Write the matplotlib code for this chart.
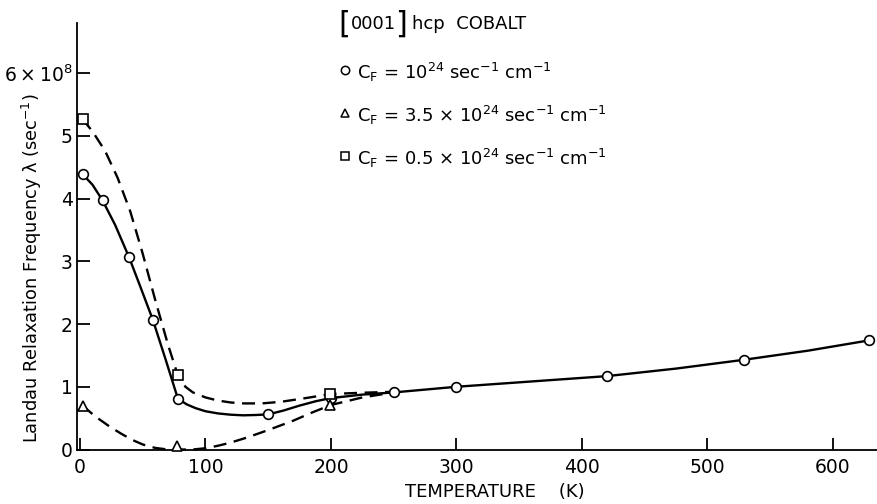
import matplotlib
matplotlib.use("Agg")
import matplotlib.pyplot as plt

plt.rcParams['font.family'] = ['DejaVu Sans']
plt.rcParams['mathtext.default'] = 'regular'

# Landau relaxation frequency of [0001] hcp cobalt, units of 1e8 sec^-1
# measured points for each value of C_F
t_circle = [2, 18, 39, 58, 78, 150, 200, 250, 300, 420, 529, 629]
lam_circle = [4.39, 3.97, 3.07, 2.07, 0.81, 0.56, 0.82, 0.91, 1.00, 1.17, 1.43, 1.74]

t_triangle = [2, 77, 199]
lam_triangle = [0.70, 0.05, 0.71]

t_square = [2, 78, 199]
lam_square = [5.27, 1.18, 0.885]

# hand-drawn curves through the points
curve_circle_t = [2, 10, 18, 28, 39, 48, 58, 68, 78, 85, 92, 100, 110, 120, 130,
                  140, 150, 162, 175, 188, 200, 225, 250, 275, 300, 360, 420,
                  475, 529, 580, 629]
curve_circle_lam = [4.39, 4.22, 3.97, 3.58, 3.07, 2.60, 2.07, 1.45, 0.81, 0.72,
                    0.66, 0.61, 0.575, 0.555, 0.545, 0.55, 0.56, 0.62, 0.70,
                    0.77, 0.82, 0.875, 0.91, 0.955, 1.00, 1.085, 1.17, 1.29,
                    1.43, 1.575, 1.74]

curve_square_t = [2, 10, 20, 30, 40, 50, 60, 70, 78, 84, 90, 100, 110, 120, 130,
                  145, 160, 180, 200, 225, 250]
curve_square_lam = [5.27, 5.07, 4.76, 4.33, 3.80, 3.12, 2.38, 1.68, 1.18, 1.00,
                    0.91, 0.83, 0.78, 0.75, 0.735, 0.735, 0.76, 0.82, 0.885,
                    0.905, 0.92]

curve_triangle_t = [2, 12, 24, 33, 42, 50, 60, 70, 80, 90, 100, 110, 120, 133,
                    150, 170, 185, 200, 225, 250]
curve_triangle_lam = [0.70, 0.53, 0.36, 0.25, 0.15, 0.08, 0.025, 0.0, 0.0, 0.0,
                      0.02, 0.06, 0.11, 0.19, 0.31, 0.46, 0.59, 0.71, 0.83, 0.91]

x_ticks = [0, 100, 200, 300, 400, 500, 600]
y_ticks = [0, 1, 2, 3, 4, 5, 6]
y_ticklabels = ['0', '1', '2', '3', '4', '5', '6\u2009×\u200910$^{8}$']

legend_labels = [r"C$_F$ = 10$^{24}$ sec$^{-1}$ cm$^{-1}$",
                 r"C$_F$ = 3.5 × 10$^{24}$ sec$^{-1}$ cm$^{-1}$",
                 r"C$_F$ = 0.5 × 10$^{24}$ sec$^{-1}$ cm$^{-1}$"]

W, H = 878, 504
fig = plt.figure(figsize=(W / 100, H / 100), dpi=100)
ax = fig.add_axes([77 / W, 54.5 / H, 801 / W, 426.5 / H])

lw = 1.7
dash = (5.5, 3.2)
ax.plot(curve_circle_t, curve_circle_lam, color='black', lw=lw, clip_on=False,
        solid_capstyle='round')
ax.plot(curve_square_t, curve_square_lam, color='black', lw=lw, dashes=dash,
        clip_on=False)
ax.plot(curve_triangle_t, curve_triangle_lam, color='black', lw=lw, dashes=dash,
        clip_on=False)

mk = dict(linestyle='none', mfc='white', mec='black', mew=1.2, clip_on=False,
          zorder=5)
ax.plot(t_circle, lam_circle, marker='o', ms=7, **mk)
ax.plot(t_triangle, lam_triangle, marker='^', ms=7, **mk)
ax.plot(t_square, lam_square, marker='s', ms=6.5, **mk)

ax.set_xlim(-2.4, 636)
ax.set_ylim(0, 6.8)
for side in ('top', 'right'):
    ax.spines[side].set_visible(False)
for side in ('left', 'bottom'):
    ax.spines[side].set_linewidth(1.3)

ax.set_xticks(x_ticks)
ax.set_yticks(y_ticks)
ax.set_yticklabels(y_ticklabels)
ax.tick_params(direction='in', length=9, width=1.3, labelsize=13.5)
ax.tick_params(axis='x', pad=6)
ax.tick_params(axis='y', pad=3)

fig.text(495 / W, 1 - 492 / H, 'TEMPERATURE    (K)', ha='center', va='center',
         fontsize=13)
fig.text(32 / W, 1 - 268 / H,
         r'Landau Relaxation Frequency $\lambda$ (sec$^{-1}$)',
         rotation=90, ha='center', va='center', fontsize=12.8)

# key block
fig.text(338 / W, 1 - 24 / H, '[', fontsize=22, ha='left', va='center')
fig.text(351 / W, 1 - 24 / H, '0001', fontsize=13, ha='left', va='center')
fig.text(395 / W, 1 - 24 / H, ']', fontsize=22, ha='left', va='center')
fig.text(412 / W, 1 - 24 / H, 'hcp  COBALT', fontsize=13, ha='left', va='center')

key_markers = ['o', '^', 's']
key_y = [70, 113, 156]
for m, lab, y in zip(key_markers, legend_labels, key_y):
    fig.lines.append(plt.Line2D([345 / W], [1 - y / H], marker=m, ms=6,
                                mfc='white', mec='black', mew=1.1,
                                transform=fig.transFigure, linestyle='none'))
    fig.text(357 / W, 1 - (y + 2) / H, lab, fontsize=13, ha='left', va='center')

fig.savefig('out.png', dpi=100)
